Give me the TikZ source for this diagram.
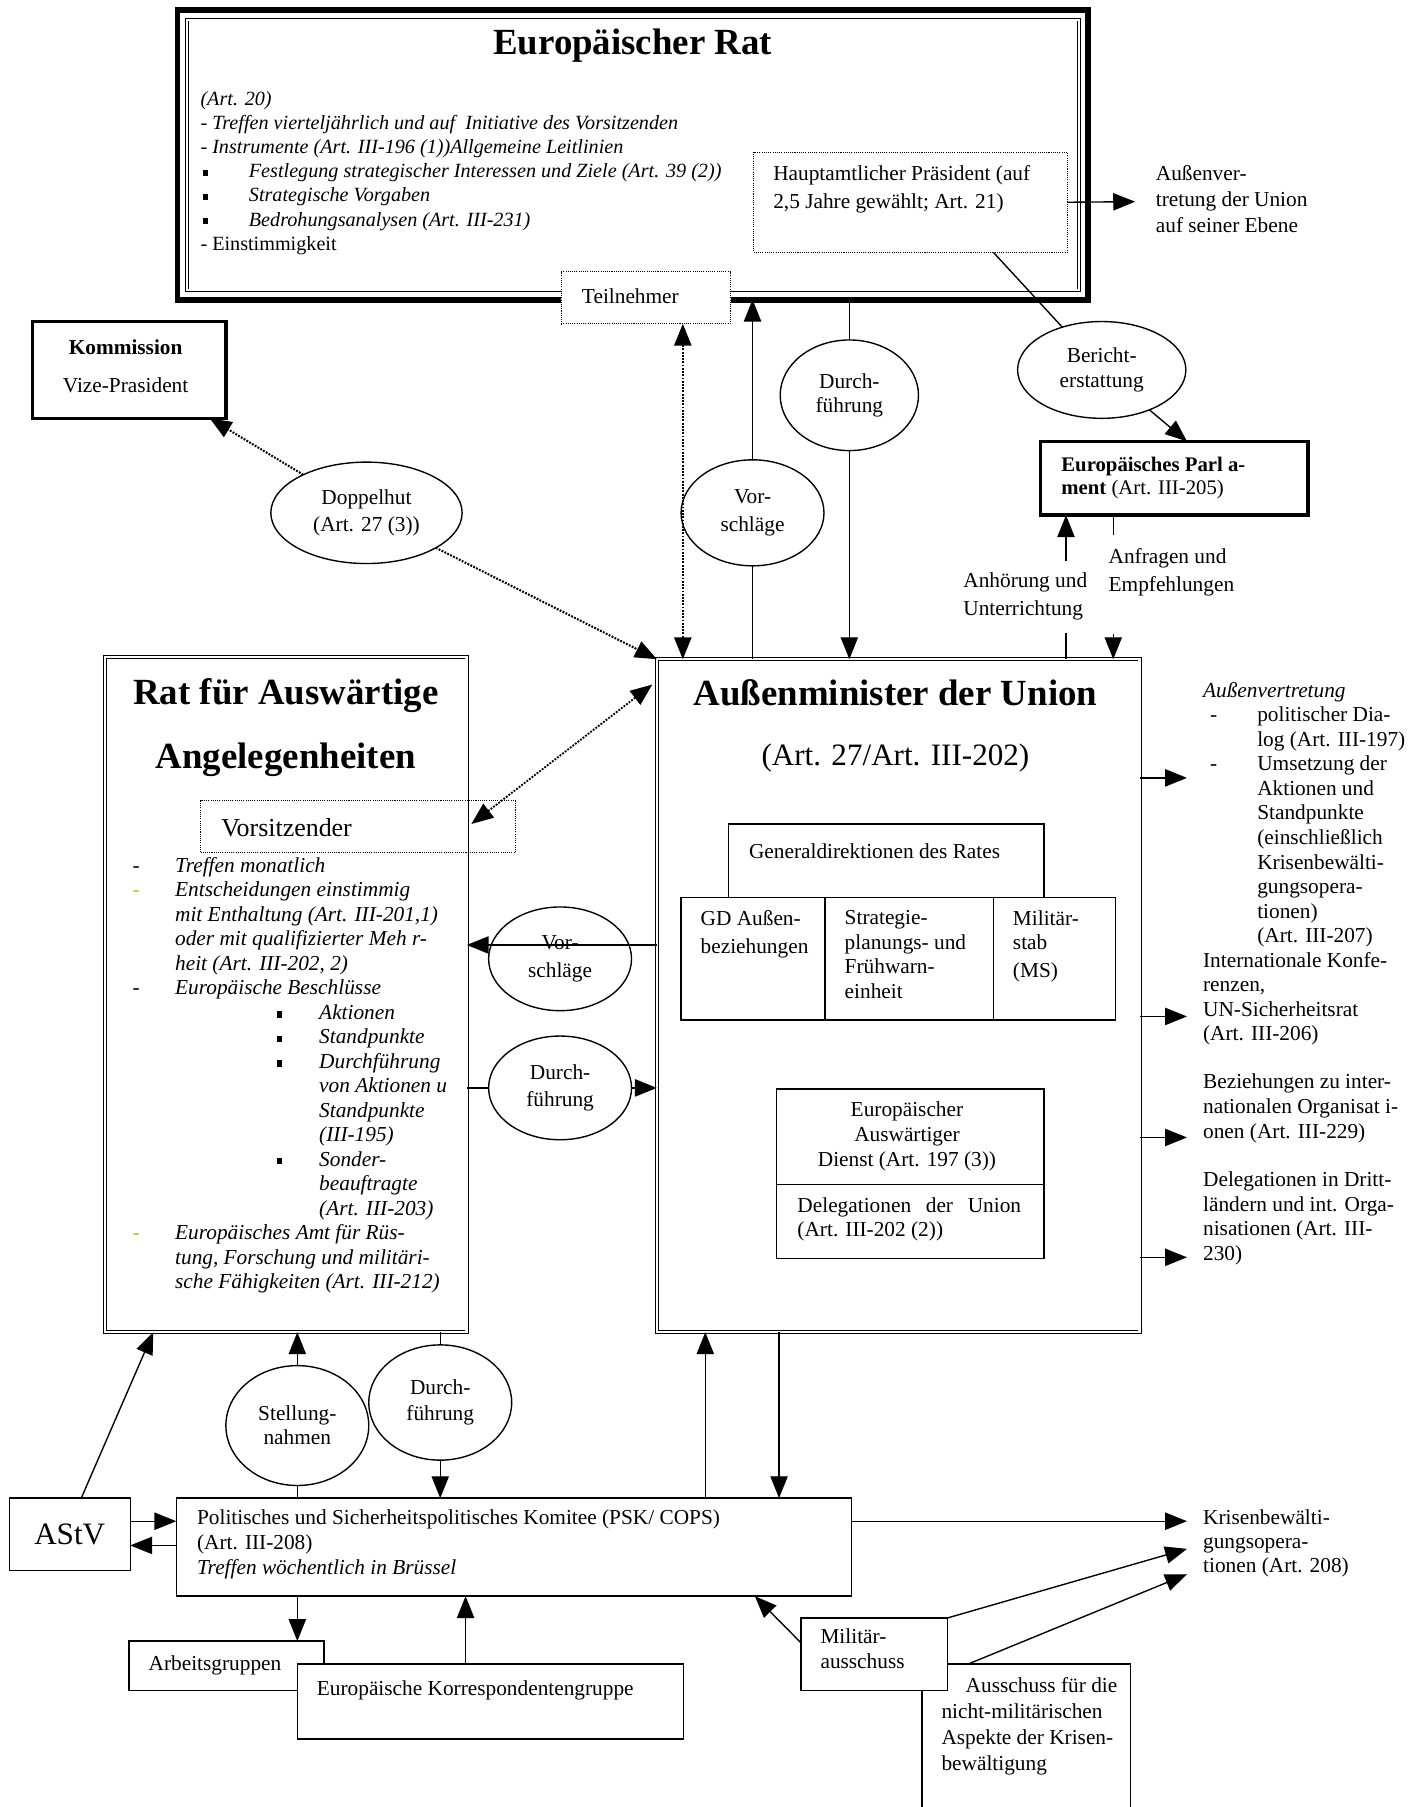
\documentclass[tikz,border=0pt]{standalone}
\usepackage{fontspec}
\setmainfont{Liberation Serif}
\usetikzlibrary{shapes.geometric,arrows.meta}
\definecolor{ygreen}{RGB}{165,200,55}
\newcommand\myfs[2]{\fontsize{#1}{#2}\selectfont}
\newcommand\sqb{\rule[1.5pt]{4.5pt}{5.5pt}}
\begin{document}
\begin{tikzpicture}[x=1pt,y=-1pt,
  every node/.style={inner sep=0pt, outer sep=0pt},
  frame/.style={draw, line width=1.2pt, fill=white, anchor=north west},
  thickframe/.style={frame, line width=3pt},
  dotframe/.style={draw, densely dotted, line width=0.9pt, anchor=north west},
  dblframe/.style={draw, double, double distance=2.2pt, line width=0.8pt, anchor=north west},
  ell/.style={ellipse, draw, line width=1.2pt, fill=white, align=center, font=\myfs{18.5}{22}},
  txt/.style={anchor=north west, align=left, font=\myfs{18.5}{21}},
  arr/.style={line width=1.2pt, -{Triangle[length=19pt,width=15pt]}},
  ln/.style={line width=1.2pt},
  dotarr/.style={line width=1.8pt, dash pattern=on 1.6pt off 1.2pt, -{Triangle[length=19pt,width=15pt]}},
  dotdbl/.style={line width=1.6pt, dash pattern=on 1.6pt off 1.2pt, {Triangle[length=19pt,width=15pt]}-{Triangle[length=19pt,width=15pt]}},
]
\useasboundingbox (0,0) rectangle (1233,1568);

% ---------------- Europaeischer Rat ----------------
\node[draw, line width=5pt, anchor=north west, minimum width=790pt, minimum height=251pt] (eur) at (154,9) {};
\draw[double, double distance=1.8pt, line width=0.7pt] ([shift={(8,8)}]eur.north west) rectangle ([shift={(-8,-8)}]eur.south east);
\node[font=\bfseries\myfs{32}{36}] (eurtitle) at (549,40) {Europäischer Rat};
\node[txt, font=\myfs{17.5}{21}] (eurlist) at (174,79) {%
\textit{(Art. 20)}\\
- \textit{Treffen vierteljährlich und auf\ \ Initiative des Vorsitzenden}\\
- \textit{Instrumente (Art. III-196 (1))Allgemeine Leitlinien}\\
\hspace*{2pt}\makebox[40pt][l]{\sqb}\textit{Festlegung strategischer Interessen und Ziele (Art. 39 (2))}\\
\hspace*{2pt}\makebox[40pt][l]{\sqb}\textit{Strategische Vorgaben}\\
\hspace*{2pt}\makebox[40pt][l]{\sqb}\textit{Bedrohungsanalysen (Art. III-231)}\\
- Einstimmigkeit};
\node[dotframe, minimum width=272pt, minimum height=87pt] (haupt) at (654,132) {};
\node[txt, font=\myfs{18.5}{24}] (hauptt) at (671,144) {Hauptamtlicher Präsident (auf\\2,5 Jahre gewählt; Art. 21)};
\node[txt, font=\myfs{18.5}{22.5}] (aussenv) at (1003,144) {Außenver-\\tretung der Union\\auf seiner Ebene};
\coordinate (aussenvTip) at (985,175);

\node[dotframe, fill=white, minimum width=147pt, minimum height=45pt] (teil) at (487,236) {};
\node[txt, anchor=west] (teilt) at (505,257) {Teilnehmer};

% ---------------- Kommission ----------------
\node[thickframe, minimum width=168pt, minimum height=84pt] (komm) at (28,279) {};
\node[font=\bfseries\myfs{18.5}{21}] (kommt) at (109,301) {Kommission};
\node[font=\myfs{18.5}{21}] (vize) at (109,334) {Vize-Prasident};

% ---------------- ellipses top ----------------
\node[ell, minimum width=166pt, minimum height=88pt, font=\myfs{18.5}{24}] (doppel) at (318,445) {Doppelhut\\(Art. 27 (3))};
\node[ell, minimum width=124pt, minimum height=92pt, font=\myfs{18.5}{24}] (vor1) at (653,445) {Vor-\\schläge};
\node[ell, minimum width=120pt, minimum height=96pt, font=\myfs{18.5}{21}] (dur1) at (737,343) {Durch-\\führung};
\node[ell, minimum width=146pt, minimum height=84pt, font=\myfs{18.5}{21}] (ber) at (956,321) {Bericht-\\erstattung};

% ---------------- Parlament ----------------
\node[thickframe, minimum width=232pt, minimum height=64pt] (parl) at (903,383) {};
\node[txt, font=\myfs{18}{20}] (parlt) at (921,397) {\textbf{Europäisches Parl a-}\\\textbf{ment} (Art. III-205)};
\node[txt, font=\myfs{18.5}{24}] (anh) at (836,497) {Anhörung und\\Unterrichtung};
\node[txt, font=\myfs{18.5}{24}] (anf) at (962,476) {Anfragen und\\Empfehlungen};

% ---------------- Aussenminister ----------------
\node[dblframe, minimum width=419pt, minimum height=584pt] (am) at (570,572) {};
\node[font=\bfseries\myfs{32}{36}] (amtitle) at (777,601) {Außenminister der Union};
\node[font=\myfs{27}{30}] (amart) at (777,658) {(Art. 27/Art. III-202)};
\node[frame, minimum width=274pt, minimum height=64pt] (gdr) at (632,715) {};
\node[txt, anchor=west] (gdrt) at (650,739) {Generaldirektionen des Rates};
\node[frame, minimum width=125pt, minimum height=106pt] (gda) at (591,779) {};
\node[frame, minimum width=146pt, minimum height=106pt] (spf) at (716,779) {};
\node[frame, minimum width=106pt, minimum height=106pt] (ms) at (862,779) {};
\node[txt, font=\myfs{18.5}{24}] (gdat) at (608,790) {GD Außen-\\beziehungen};
\node[txt, font=\myfs{18.5}{21.3}] (spft) at (733,790) {Strategie-\\planungs- und\\Frühwarn-\\einheit};
\node[txt] (mst) at (879,790) {Militär-\\stab\\[3pt](MS)};
\node[frame, minimum width=232pt, minimum height=83pt] (ead) at (674,945) {};
\node[frame, minimum width=232pt, minimum height=64pt] (del) at (674,1028) {};
\node[anchor=north, align=center, font=\myfs{18.5}{21.5}] (eadt) at (787,956) {Europäischer\\Auswärtiger\\Dienst (Art. 197 (3))};
\node[txt] (delt) at (692,1039) {\makebox[194pt][s]{Delegationen der Union}\\(Art. III-202 (2))};

% ---------------- right side texts ----------------
\node[txt, font=\myfs{18.5}{21.3}] (avt) at (1044,592) {\textit{Außenvertretung}\\
\hspace*{6pt}\makebox[41pt][l]{-}politischer Dia-\\
\hspace*{47pt}log (Art. III-197)\\
\hspace*{6pt}\makebox[41pt][l]{-}Umsetzung der\\
\hspace*{47pt}Aktionen und\\
\hspace*{47pt}Standpunkte\\
\hspace*{47pt}(einschließlich\\
\hspace*{47pt}Krisenbewälti-\\
\hspace*{47pt}gungsopera-\\
\hspace*{47pt}tionen)\\
\hspace*{47pt}(Art. III-207)\\
Internationale Konfe-\\
renzen,\\
UN-Sicherheitsrat\\
(Art. III-206)};
\node[txt, font=\myfs{18.5}{21.5}] (bzt) at (1044,932) {Beziehungen zu inter-\\nationalen Organisat i-\\onen (Art. III-229)};
\node[txt, font=\myfs{18.5}{21.3}] (dlt) at (1044,1017) {Delegationen in Dritt-\\ländern und int. Orga-\\nisationen (Art. III-\\230)};
\coordinate (r1) at (1030,675);
\coordinate (r2) at (1030,882);
\coordinate (r3) at (1030,987);
\coordinate (r4) at (1030,1091);

% ---------------- Rat fuer Auswaertige Angelegenheiten ----------------
\node[dblframe, minimum width=314pt, minimum height=586pt] (rataa) at (91,570) {};
\node[anchor=north, align=center, font=\bfseries\myfs{32}{55}] (rattitle) at (248,589) {Rat für Auswärtige\\Angelegenheiten};
\node[dotframe, minimum width=273pt, minimum height=45pt] (vors) at (174,695) {};
\node[anchor=west, font=\myfs{22.5}{26}] (vorst) at (192,718) {Vorsitzender};
\node[txt, font=\myfs{18.5}{21.24}] (ratlist) at (115,744) {%
\makebox[37pt][l]{-}\textit{Treffen monatlich}\\
\makebox[37pt][l]{\textcolor{ygreen}{-}}\textit{Entscheidungen einstimmig}\\
\hspace*{37pt}\textit{mit Enthaltung (Art. III-201,1)}\\
\hspace*{37pt}\textit{oder mit qualifizierter Meh r-}\\
\hspace*{37pt}\textit{heit (Art. III-202, 2)}\\
\makebox[37pt][l]{-}\textit{Europäische Beschlüsse}\\
\hspace*{125pt}\makebox[37pt][l]{\sqb}\textit{Aktionen}\\
\hspace*{125pt}\makebox[37pt][l]{\sqb}\textit{Standpunkte}\\
\hspace*{125pt}\makebox[37pt][l]{\sqb}\textit{Durchführung}\\
\hspace*{162pt}\textit{von Aktionen u}\\
\hspace*{162pt}\textit{Standpunkte}\\
\hspace*{162pt}\textit{(III-195)}\\
\hspace*{125pt}\makebox[37pt][l]{\sqb}\textit{Sonder-}\\
\hspace*{162pt}\textit{beauftragte}\\
\hspace*{162pt}\textit{(Art. III-203)}\\
\makebox[37pt][l]{\textcolor{ygreen}{-}}\textit{Europäisches Amt für Rüs-}\\
\hspace*{37pt}\textit{tung, Forschung und militäri-}\\
\hspace*{37pt}\textit{sche Fähigkeiten (Art. III-212)}};

% ---------------- middle ellipses ----------------
\node[ell, minimum width=124pt, minimum height=90pt, font=\myfs{18.5}{24}] (vor2) at (486,832) {Vor-\\schläge};
\node[ell, minimum width=124pt, minimum height=90pt, font=\myfs{18.5}{24}] (dur2) at (486,944) {Durch-\\führung};

% ---------------- bottom ----------------
\node[frame, minimum width=105pt, minimum height=63pt, font=\myfs{27}{30}] (astv) at (8,1300) {AStV};
\node[frame, minimum width=586pt, minimum height=85pt] (psk) at (153,1300) {};
\node[txt, font=\myfs{18.5}{21.5}] (pskt) at (171,1310) {Politisches und Sicherheitspolitisches Komitee (PSK/ COPS)\\(Art. III-208)\\\textit{Treffen wöchentlich in Brüssel}};
\node[ell, minimum width=124pt, minimum height=104pt, font=\myfs{18.5}{21}] (st) at (258,1237) {Stellung-\\nahmen};
\node[ell, minimum width=124pt, minimum height=100pt, font=\myfs{18.5}{22}] (dur3) at (382,1217) {Durch-\\führung};
\node[txt] (krt) at (1044,1310) {Krisenbewälti-\\gungsopera-\\tionen (Art. 208)};
\coordinate (k1) at (1030,1320);
\coordinate (k2) at (1030,1344);
\coordinate (k3) at (1030,1366);
\node[frame, minimum width=181pt, minimum height=170pt] (aus) at (800,1444) {};
\node[txt, font=\myfs{18.5}{22.3}] (aust) at (817,1456) {\hspace*{21pt}Ausschuss für die\\nicht-militärischen\\Aspekte der Krisen-\\bewältigung};
\node[frame, minimum width=127pt, minimum height=63pt] (mil) at (695,1404) {};
\node[txt, font=\myfs{18.5}{22}] (milt) at (712,1413) {Militär-\\ausschuss};
\node[frame, minimum width=169pt, minimum height=43pt] (ag) at (112,1424) {};
\node[txt, anchor=west] (agt) at (129,1445) {Arbeitsgruppen};
\node[frame, minimum width=335pt, minimum height=65pt] (kg) at (258,1444) {};
\node[txt, anchor=west] (kgt) at (275,1467) {Europäische Korrespondentengruppe};

% ---------------- connectors ----------------
\draw[arr] (haupt.east) -- (aussenvTip);
\coordinate (teilR) at ([xshift=32pt]teil.south);
\draw[dotdbl] (teilR) -- (teilR |- am.north);
\draw[dotarr] (doppel) -- ([xshift=-14pt]komm.south east);
\draw[dotarr] (doppel) -- (am.north west);
\draw[ln] (vor1.south) -- (vor1.south |- am.north);
\draw[arr] (vor1.north) -- (vor1.north |- eur.south);
\draw[ln] (dur1.north |- eur.south) -- (dur1.north);
\draw[arr] (dur1.south) -- (dur1.south |- am.north);
\coordinate (hauptB) at ([xshift=72pt]haupt.south);
\draw[ln] (hauptB) -- (ber);
\draw[arr] (ber) -- ([xshift=11pt]parl.north);
\coordinate (anhA) at (925,487);
\coordinate (anhB) at (925,549);
\draw[arr] (anhA) -- (anhA |- parl.south);
\draw[ln] (anhB) -- (anhB |- am.north);
\coordinate (anfA) at (966,464);
\coordinate (anfB) at (966,550);
\draw[ln] (anfA |- parl.south) -- (anfA);
\draw[arr] (anfB) -- (anfB |- am.north);
\draw[arr] (r1 -| am.east) -- (r1);
\draw[arr] (r2 -| am.east) -- (r2);
\draw[arr] (r3 -| am.east) -- (r3);
\draw[arr] (r4 -| am.east) -- (r4);
\coordinate (vzA) at (566,594);
\coordinate (vzB) at (409,715);
\draw[dotdbl] (vzA) -- (vzB);
\coordinate (v2) at (486,820);
\draw[arr] (v2 -| am.west) -- (v2 -| rataa.east);
\draw[ln] (dur2.west -| rataa.east) -- (dur2.west);
\draw[arr] (dur2.east) -- (dur2.east -| am.west);
\draw[arr] ([xshift=10pt]astv.north) -- ([xshift=42pt]rataa.south west);
\draw[ln] (st.south) -- (st.south |- psk.north);
\draw[arr] (st.north) -- (st.north |- rataa.south);
\draw[ln] (dur3.north |- rataa.south) -- (dur3.north);
\draw[arr] (dur3.south) -- (dur3.south |- psk.north);
\coordinate (amL) at ([xshift=42pt]am.south west);
\coordinate (amR) at ([xshift=106pt]am.south west);
\draw[arr] (amL |- psk.north) -- (amL);
\draw[arr] (amR) -- (amR |- psk.north);
\coordinate (ap1) at (0,1320);
\coordinate (ap2) at (0,1341);
\draw[arr] (ap1 -| astv.east) -- (ap1 -| psk.west);
\draw[arr] (ap2 -| psk.west) -- (ap2 -| astv.east);
\draw[arr] (k1 -| psk.east) -- (k1);
\coordinate (pskM) at ([xshift=-84pt]psk.south east);
\draw[arr] ([yshift=10pt]mil.west) -- (pskM);
\draw[arr] (mil.north east) -- (k2);
\coordinate (ausA) at ([xshift=40pt]aus.north west);
\draw[arr] (ausA) -- (k3);
\draw[arr] (st |- psk.south) -- (st |- ag.north);
\coordinate (kgx) at ([xshift=-21.5pt]kg.north);
\draw[arr] (kgx) -- (kgx |- psk.south);
\end{tikzpicture}
\end{document}
